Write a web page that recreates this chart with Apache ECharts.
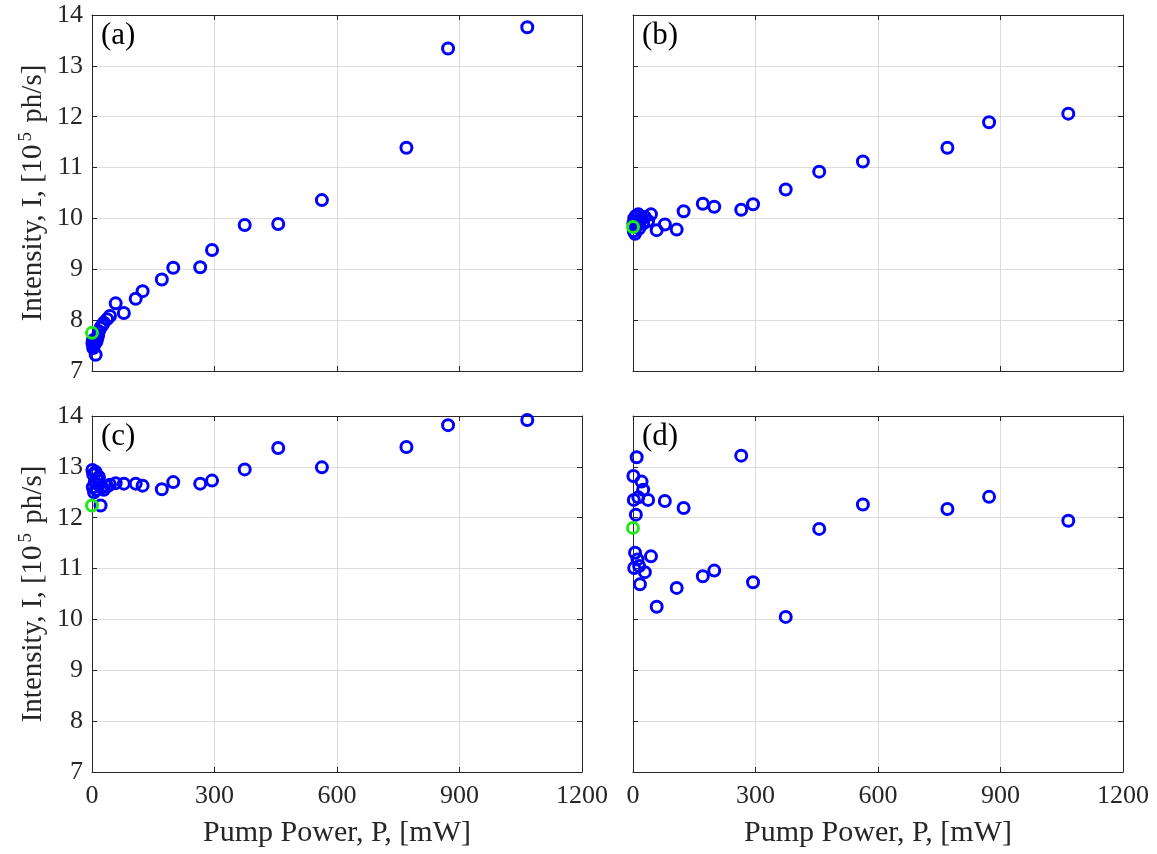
<!DOCTYPE html>
<html>
<head>
<meta charset="utf-8">
<script src="https://cdn.jsdelivr.net/npm/echarts@6/dist/echarts.min.js"></script>
<style>html,body{margin:0;padding:0;background:#fff;}#c{width:1157px;height:854px;}</style>
</head>
<body>
<div id="c"></div>
<script>
// Pump power values shared by all four panels (mW)
const power = [1, 2, 3, 5, 7, 9, 11, 13, 15, 17, 21, 25, 29, 37, 44, 58, 78, 107, 124, 171, 199, 265, 294, 374, 456, 563, 770, 872, 1066];
// Intensity (10^5 ph/s) per panel
const intensityA = [7.55, 7.6, 7.45, 7.5, 7.62, 7.32, 7.58, 7.65, 7.7, 7.78, 7.85, 7.9, 7.95, 8.02, 8.08, 8.33, 8.14, 8.42, 8.57, 8.80, 9.03, 9.04, 9.38, 9.87, 9.89, 10.36, 11.39, 13.34, 13.76];
const intensityB = [9.9, 9.75, 10.0, 9.7, 10.05, 9.85, 9.95, 10.08, 9.8, 9.95, 10.0, 9.9, 10.03, 9.95, 10.08, 9.77, 9.88, 9.78, 10.14, 10.29, 10.23, 10.17, 10.28, 10.57, 10.92, 11.12, 11.39, 11.89, 12.06];
const intensityC = [12.94, 12.6, 12.85, 12.5, 12.7, 12.9, 12.55, 12.75, 12.65, 12.8, 12.24, 12.6, 12.55, 12.62, 12.65, 12.68, 12.67, 12.67, 12.63, 12.56, 12.70, 12.67, 12.73, 12.95, 13.37, 12.99, 13.39, 13.82, 13.92];
const intensityD = [12.82, 12.35, 11.01, 11.31, 12.06, 13.19, 11.18, 12.4, 11.05, 10.69, 12.71, 12.55, 10.93, 12.35, 11.24, 10.25, 12.33, 10.62, 12.19, 10.85, 10.96, 13.22, 10.73, 10.05, 11.78, 12.26, 12.17, 12.41, 11.94];
// Reference (zero-power) points, green
const refPower = [0, 0, 0, 0];
const refIntensity = [7.75, 9.83, 12.24, 11.80];
const panelLabels = ['(a)', '(b)', '(c)', '(d)'];
const xTicks = [0, 300, 600, 900, 1200];
const yTicks = [7, 8, 9, 10, 11, 12, 13, 14];

const series = [intensityA, intensityB, intensityC, intensityD];

const FONT = '"Liberation Serif", "Times New Roman", serif';
const AX = '#262626';
const grids = [
  {left: 92, top: 15, width: 490, height: 356},
  {left: 633, top: 15, width: 490, height: 356},
  {left: 92, top: 416, width: 490, height: 356},
  {left: 633, top: 416, width: 490, height: 356}
];

const xAxes = [], yAxes = [], seriesList = [], titles = [];
grids.forEach((g, i) => {
  const bottomRow = i >= 2, leftCol = i % 2 === 0;
  const baseX = {
    type: 'value', gridIndex: i, min: xTicks[0], max: xTicks[xTicks.length - 1], interval: 300,
    axisLine: {show: true, onZero: false, lineStyle: {color: AX, width: 1}},
    axisTick: {show: true, inside: true, length: 5, lineStyle: {color: AX}},
    splitLine: {show: false}
  };
  xAxes.push(Object.assign({}, baseX, {
    position: 'bottom',
    splitLine: {show: true, lineStyle: {color: '#dcdcdc', width: 1}},
    axisLabel: {show: bottomRow, fontFamily: FONT, fontSize: 26, color: AX, margin: 11,
      formatter: v => String(v)},
    name: bottomRow ? 'Pump Power, P, [mW]' : '',
    nameLocation: 'middle', nameGap: 46,
    nameTextStyle: {fontFamily: FONT, fontSize: 30, color: AX}
  }));
  xAxes.push(Object.assign({}, baseX, {position: 'top', axisLabel: {show: false}}));
  const baseY = {
    type: 'value', gridIndex: i, min: yTicks[0], max: yTicks[yTicks.length - 1], interval: 1,
    axisLine: {show: true, onZero: false, lineStyle: {color: AX, width: 1}},
    axisTick: {show: true, inside: true, length: 5, lineStyle: {color: AX}},
    splitLine: {show: false}
  };
  yAxes.push(Object.assign({}, baseY, {
    position: 'left',
    splitLine: {show: true, lineStyle: {color: '#dcdcdc', width: 1}},
    axisLabel: {show: leftCol, fontFamily: FONT, fontSize: 26, color: AX, margin: 9},
    name: leftCol ? '{a|Intensity, I, [10}{s|5}{a| ph/s]}' : '',
    nameLocation: 'middle', nameGap: 43, nameRotate: 90,
    nameTextStyle: {
      fontFamily: FONT, fontSize: 29, color: AX,
      rich: {
        a: {fontFamily: FONT, fontSize: 29, color: AX},
        s: {fontFamily: FONT, fontSize: 19, color: AX, padding: [0, 2, 13, 3]}
      }
    }
  }));
  yAxes.push(Object.assign({}, baseY, {position: 'right', axisLabel: {show: false}}));

  seriesList.push({
    type: 'scatter', xAxisIndex: i * 2, yAxisIndex: i * 2,
    data: power.map((p, k) => [p, series[i][k]]),
    symbol: 'circle', symbolSize: 11,
    itemStyle: {color: 'rgba(0,0,0,0)', borderColor: '#0000ff', borderWidth: 3, opacity: 1},
    emphasis: {disabled: true}, silent: true, animation: false, z: 2
  });
  seriesList.push({
    type: 'scatter', xAxisIndex: i * 2, yAxisIndex: i * 2,
    data: [[refPower[i], refIntensity[i]]],
    symbol: 'circle', symbolSize: 11,
    itemStyle: {color: 'rgba(0,0,0,0)', borderColor: '#1eea14', borderWidth: 3, opacity: 1},
    emphasis: {disabled: true}, silent: true, animation: false, z: 3
  });
  titles.push({
    text: panelLabels[i], left: g.left + 4, top: g.top,
    textStyle: {fontFamily: FONT, fontSize: 31, fontWeight: 'normal', color: '#000'}
  });
});

const chart = echarts.init(document.getElementById('c'), null, {renderer: 'canvas'});
chart.setOption({
  backgroundColor: '#ffffff',
  animation: false,
  title: titles,
  grid: grids.map(g => Object.assign({containLabel: false}, g)),
  xAxis: xAxes,
  yAxis: yAxes,
  series: seriesList
});
</script>
</body>
</html>
